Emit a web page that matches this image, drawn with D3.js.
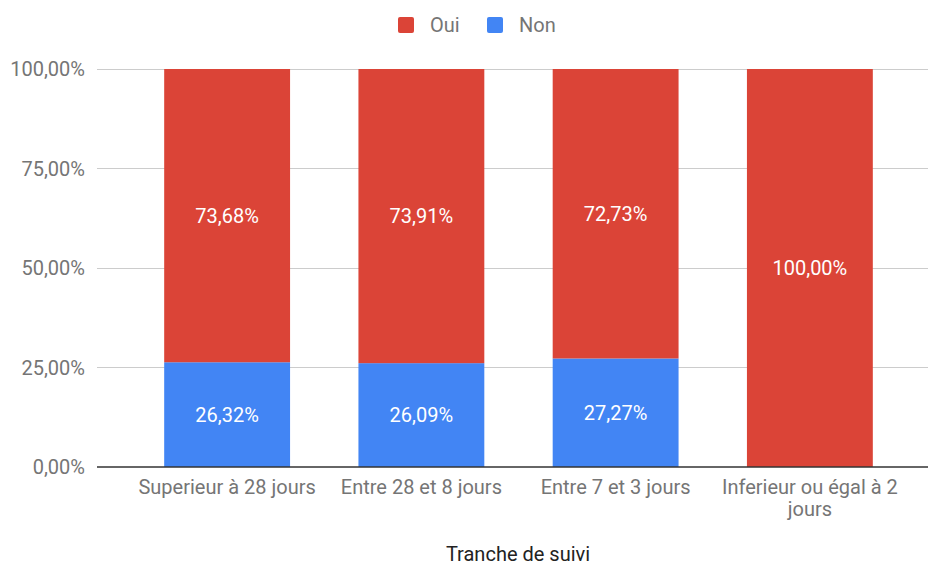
<!DOCTYPE html>
<html><head><meta charset="utf-8">
<script src="https://cdn.jsdelivr.net/npm/d3@7"></script>
<style>body{margin:0;background:#fff}svg{display:block;font-family:Roboto,sans-serif}</style>
</head><body><svg id="c" width="929" height="565"></svg>
<script>
const categories = ["Superieur à 28 jours","Entre 28 et 8 jours","Entre 7 et 3 jours","Inferieur ou égal à 2 jours"];
const oui = [73.68, 73.91, 72.73, 100.00];
const non = [26.32, 26.09, 27.27, 0];
const yTicks = [0, 25, 50, 75, 100];
const seriesNames = ["Oui","Non"];
const colors = ["#db4437","#4285f4"];

const svg = d3.select("#c");
const fs = 20;
const fmt = v => v.toFixed(2).replace(".", ",") + "%";

const y = d3.scaleLinear().domain([0,100]).range([467,69]);
const x = d3.scaleBand().domain(categories).range([130,907]).paddingInner(0.352).paddingOuter(0.176);

svg.append("g").selectAll("line").data(yTicks.filter(d=>d>0)).join("line")
  .attr("x1",97).attr("x2",928).attr("y1",d=>y(d)).attr("y2",d=>y(d))
  .attr("stroke","#cccccc").attr("stroke-width",1).attr("shape-rendering","crispEdges");

svg.append("g").selectAll("text").data(yTicks).join("text")
  .attr("x",85).attr("y",d=>y(d)).attr("dy","0.35em").attr("text-anchor","end")
  .attr("font-size",fs).attr("fill","#757575").text(d=>fmt(d));

const stacked = categories.map((c,i)=>({c, non:non[i], oui:oui[i]}));
const g = svg.append("g");
g.selectAll("rect.non").data(stacked).join("rect").attr("class","non")
  .attr("x",d=>x(d.c)).attr("width",x.bandwidth())
  .attr("y",d=>y(d.non)).attr("height",d=>y(0)-y(d.non)).attr("fill",colors[1]);
g.selectAll("rect.oui").data(stacked).join("rect").attr("class","oui")
  .attr("x",d=>x(d.c)).attr("width",x.bandwidth())
  .attr("y",d=>y(d.non+d.oui)).attr("height",d=>y(d.non)-y(d.non+d.oui)).attr("fill",colors[0]);

g.selectAll("text.lo").data(stacked).join("text").attr("class","lo")
  .attr("x",d=>x(d.c)+x.bandwidth()/2).attr("y",d=>y(d.non+d.oui/2)).attr("dy","0.35em")
  .attr("text-anchor","middle").attr("font-size",fs).attr("fill","#fff").text(d=>fmt(d.oui));
g.selectAll("text.ln").data(stacked.filter(d=>d.non>0)).join("text").attr("class","ln")
  .attr("x",d=>x(d.c)+x.bandwidth()/2).attr("y",d=>y(d.non/2)).attr("dy","0.35em")
  .attr("text-anchor","middle").attr("font-size",fs).attr("fill","#fff").text(d=>fmt(d.non));

svg.append("line").attr("x1",97).attr("x2",928).attr("y1",y(0)).attr("y2",y(0))
  .attr("stroke","#333").attr("stroke-width",1.5);

function wrapLabel(s){
  if (s.length > 22) { const k = s.lastIndexOf(" "); return [s.slice(0,k), s.slice(k+1)]; }
  return [s];
}
const xl = svg.append("g");
categories.forEach(c=>{
  const lines = wrapLabel(c);
  const t = xl.append("text").attr("text-anchor","middle").attr("font-size",fs).attr("fill","#757575");
  lines.forEach((ln,i)=>t.append("tspan").attr("x",x(c)+x.bandwidth()/2).attr("y",494+i*22).text(ln));
});

svg.append("text").attr("x",518).attr("y",561).attr("text-anchor","middle")
  .attr("font-size",fs).attr("fill","#222").text("Tranche de suivi");

const lg = svg.append("g");
const legX = [398, 487];
seriesNames.forEach((n,i)=>{
  lg.append("rect").attr("x",legX[i]).attr("y",17).attr("width",16).attr("height",16).attr("rx",2).attr("fill",colors[i]);
  lg.append("text").attr("x",legX[i]+32).attr("y",25).attr("dy","0.35em").attr("font-size",fs).attr("fill","#757575").text(n);
});
</script></body></html>
